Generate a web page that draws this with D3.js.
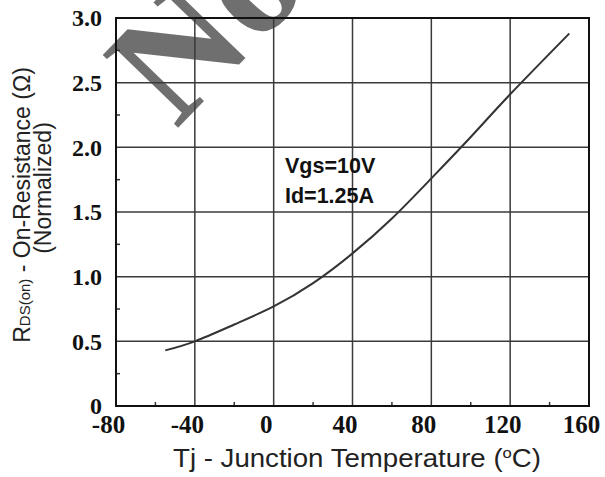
<!DOCTYPE html>
<html><head><meta charset="utf-8">
<script src="https://cdn.jsdelivr.net/npm/d3@7"></script>
<style>
html,body{margin:0;padding:0;background:#fff;}
svg{display:block;}
</style></head>
<body>
<svg id="chart" width="605" height="477"></svg>
<script>
// ---- data ----
const tempC = [-55, -40, -20, 0, 20, 40, 60, 80, 100, 120, 150];
const rdsNorm = [0.43, 0.50, 0.63, 0.77, 0.95, 1.18, 1.45, 1.76, 2.08, 2.41, 2.88];
const xTicks = [-80, -40, 0, 40, 80, 120, 160];
const xTickLabels = ["-80", "-40", "0", "40", "80", "120", "160"];
const yTicks = [0, 0.5, 1.0, 1.5, 2.0, 2.5, 3.0];
const yTickLabels = ["0", "0.5", "1.0", "1.5", "2.0", "2.5", "3.0"];
const xMinor = [-60, -20, 20, 60, 100, 140];
const yMinor = [0.25, 0.75, 1.25, 1.75, 2.25, 2.75];
const annotation = ["Vgs=10V", "Id=1.25A"];

const svg = d3.select("#chart");
const L = 116, R = 589, T = 18, B = 406;
const x = d3.scaleLinear().domain([-80, 160]).range([L, R]);
const y = d3.scaleLinear().domain([0, 3]).range([B, T]);

// watermark
svg.append("text")
  .attr("transform", "translate(176,130) rotate(-46)")
  .attr("font-family", "'Liberation Serif', serif")
  .attr("font-size", 160)
  .attr("font-weight", "bold")
  .attr("fill", "#222")
  .attr("fill-opacity", 0.65)
  .text("No");

// grid
const g = svg.append("g");
g.selectAll(".vg").data(xTicks.slice(1, -1)).join("line")
  .attr("x1", d => x(d)).attr("x2", d => x(d)).attr("y1", T).attr("y2", B)
  .attr("stroke", "#3a3a3a").attr("stroke-width", 1.5);
g.selectAll(".hg").data(yTicks.slice(1, -1)).join("line")
  .attr("y1", d => y(d)).attr("y2", d => y(d)).attr("x1", L).attr("x2", R)
  .attr("stroke", "#3a3a3a").attr("stroke-width", 1.5);

// minor ticks
g.selectAll(".xm").data(xMinor).join("line")
  .attr("x1", d => x(d)).attr("x2", d => x(d)).attr("y1", B).attr("y2", B - 4)
  .attr("stroke", "#333").attr("stroke-width", 1.5);
g.selectAll(".ym").data(yMinor).join("line")
  .attr("y1", d => y(d)).attr("y2", d => y(d)).attr("x1", L).attr("x2", L + 4)
  .attr("stroke", "#333").attr("stroke-width", 1.5);

// frame
svg.append("rect").attr("x", L).attr("y", T).attr("width", R - L).attr("height", B - T)
  .attr("fill", "none").attr("stroke", "#111").attr("stroke-width", 2);

// curve
const line = d3.line().x((d, i) => x(tempC[i])).y(d => y(d)).curve(d3.curveNatural);
svg.append("path").datum(rdsNorm).attr("d", line)
  .attr("fill", "none").attr("stroke", "#333").attr("stroke-width", 2);

// axes (labels via d3 axis)
const xAxis = d3.axisBottom(x).tickValues(xTicks).tickSize(0).tickPadding(9)
  .tickFormat((d, i) => xTickLabels[i]);
const xa = svg.append("g").attr("transform", `translate(0,${B})`).call(xAxis);
xa.select(".domain").remove();
xa.selectAll("text").attr("font-family", "'Liberation Serif', 'Times New Roman', serif")
  .attr("font-size", 25).attr("font-weight", "bold").attr("fill", "#111").attr("dx", -8);

const yAxis = d3.axisLeft(y).tickValues(yTicks).tickSize(0).tickPadding(14)
  .tickFormat((d, i) => yTickLabels[i]);
const ya = svg.append("g").attr("transform", `translate(${L},0)`).call(yAxis);
ya.select(".domain").remove();
ya.selectAll("text").attr("font-family", "'Liberation Serif', 'Times New Roman', serif")
  .attr("font-size", 24).attr("font-weight", "bold").attr("fill", "#111");

// x title
const xt = svg.append("text").attr("x", 357).attr("y", 467).attr("text-anchor", "middle")
  .attr("font-family", "'Liberation Sans', Arial, sans-serif").attr("font-size", 25).attr("fill", "#222")
  .attr("textLength", 368).attr("lengthAdjust", "spacingAndGlyphs");
xt.append("tspan").text("Tj - Junction Temperature (");
xt.append("tspan").attr("font-size", 15).attr("dy", -9).text("o");
xt.append("tspan").attr("dy", 9).text("C)");

// y title
const yt = svg.append("text").attr("transform", "translate(30,205) rotate(-90)").attr("text-anchor", "middle")
  .attr("font-family", "'Liberation Sans', Arial, sans-serif").attr("font-size", 23).attr("fill", "#222");
yt.append("tspan").text("R");
yt.append("tspan").attr("font-size", 15).text("DS(on)");
yt.append("tspan").text(" - On-Resistance (Ω)");
svg.append("text").attr("transform", "translate(51,188) rotate(-90)").attr("text-anchor", "middle")
  .attr("font-family", "'Liberation Sans', Arial, sans-serif").attr("font-size", 23).attr("fill", "#222")
  .text("(Normalized)");

// annotation
svg.selectAll(".ann").data(annotation).join("text")
  .attr("x", 285).attr("y", (d, i) => 173 + i * 30)
  .attr("font-family", "'Liberation Sans', Arial, sans-serif").attr("font-weight", "bold")
  .attr("font-size", 21.5).attr("fill", "#111").text(d => d);
</script>
</body></html>
